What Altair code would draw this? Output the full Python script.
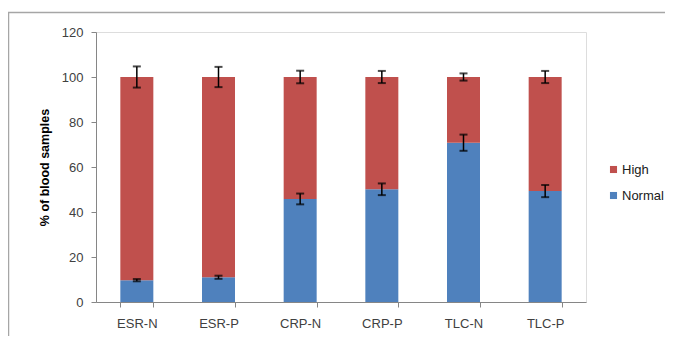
import altair as alt
import pandas as pd

categories = ["ESR-N", "ESR-P", "CRP-N", "CRP-P", "TLC-N", "TLC-P"]
normal = [9.7, 11.0, 45.8, 50.1, 70.8, 49.3]
high = [90.3, 89.0, 54.2, 49.9, 29.2, 50.7]
normal_err = [0.5, 0.7, 2.4, 2.6, 3.6, 2.7]
high_err = [4.7, 4.5, 2.8, 2.7, 1.6, 2.7]
series = ["High", "Normal"]

rows = []
for c, n, h in zip(categories, normal, high):
    rows.append({"cat": c, "series": "Normal", "value": n, "ord": 0})
    rows.append({"cat": c, "series": "High", "value": h, "ord": 1})
bars_df = pd.DataFrame(rows)

err_rows = []
for c, n, h, ne, he in zip(categories, normal, high, normal_err, high_err):
    err_rows.append({"cat": c, "lo": n - ne, "hi": n + ne})
    t = n + h
    err_rows.append({"cat": c, "lo": t - he, "hi": t + he})
err_df = pd.DataFrame(err_rows)

W, H = 490, 270

xscale = alt.Scale(domain=categories, paddingInner=0.6, paddingOuter=0.3)
yscale = alt.Scale(domain=[0, 120])

bars = alt.Chart(bars_df).mark_bar(size=33).encode(
    x=alt.X("cat:N", scale=xscale, sort=categories, title=None,
            axis=alt.Axis(labelAngle=0, tickBand="extent", labelFontSize=13,
                          labelColor="#404040", labelPadding=10,
                          domainColor="#868686", tickColor="#868686", tickSize=5)),
    y=alt.Y("value:Q", stack="zero", scale=yscale,
            title="% of blood samples",
            axis=alt.Axis(values=[0, 20, 40, 60, 80, 100, 120], grid=False,
                          labelFontSize=13, labelColor="#404040", labelPadding=8,
                          domainColor="#868686", tickColor="#868686", tickSize=5,
                          titleFontSize=12.5, titleFontWeight="bold", titleColor="#000000",
                          titlePadding=10)),
    color=alt.Color("series:N",
                    scale=alt.Scale(domain=series, range=["#C0504D", "#4F81BD"]),
                    legend=alt.Legend(title=None, orient="none", legendX=511, legendY=131,
                                      symbolType="square", symbolSize=50,
                                      symbolStrokeWidth=0, labelFontSize=13,
                                      labelColor="#202020", rowPadding=12,
                                      labelOffset=2, labelLimit=200)),
    order=alt.Order("ord:Q"),
)

err_rule = alt.Chart(err_df).mark_rule(color="black", strokeWidth=1.5).encode(
    x=alt.X("cat:N", scale=xscale, sort=categories),
    y=alt.Y("lo:Q", scale=yscale),
    y2="hi:Q",
)
cap_lo = alt.Chart(err_df).mark_tick(color="black", size=8, thickness=2).encode(
    x=alt.X("cat:N", scale=xscale, sort=categories),
    y=alt.Y("lo:Q", scale=yscale),
)
cap_hi = alt.Chart(err_df).mark_tick(color="black", size=8, thickness=2).encode(
    x=alt.X("cat:N", scale=xscale, sort=categories),
    y=alt.Y("hi:Q", scale=yscale),
)

frame_top = alt.Chart(pd.DataFrame({"a": [0]})).mark_rule(color="#A6A6A6", strokeWidth=1.5).encode(
    x=alt.value(-88), x2=alt.value(W + 90), y=alt.value(-19.5)
)
frame_left = alt.Chart(pd.DataFrame({"a": [0]})).mark_rule(color="#A6A6A6", strokeWidth=1.5).encode(
    x=alt.value(-87.5), y=alt.value(-20), y2=alt.value(H + 40)
)

chart = alt.layer(bars, err_rule, cap_lo, cap_hi, frame_top, frame_left).properties(
    width=W, height=H,
    padding={"left": 88, "top": 24, "right": 79, "bottom": 34},
    autosize=alt.AutoSizeParams(type="none"),
).configure_view(stroke=None).configure(font="Liberation Sans")

chart.save("out.html", embed_options={"renderer": "svg", "actions": False})
